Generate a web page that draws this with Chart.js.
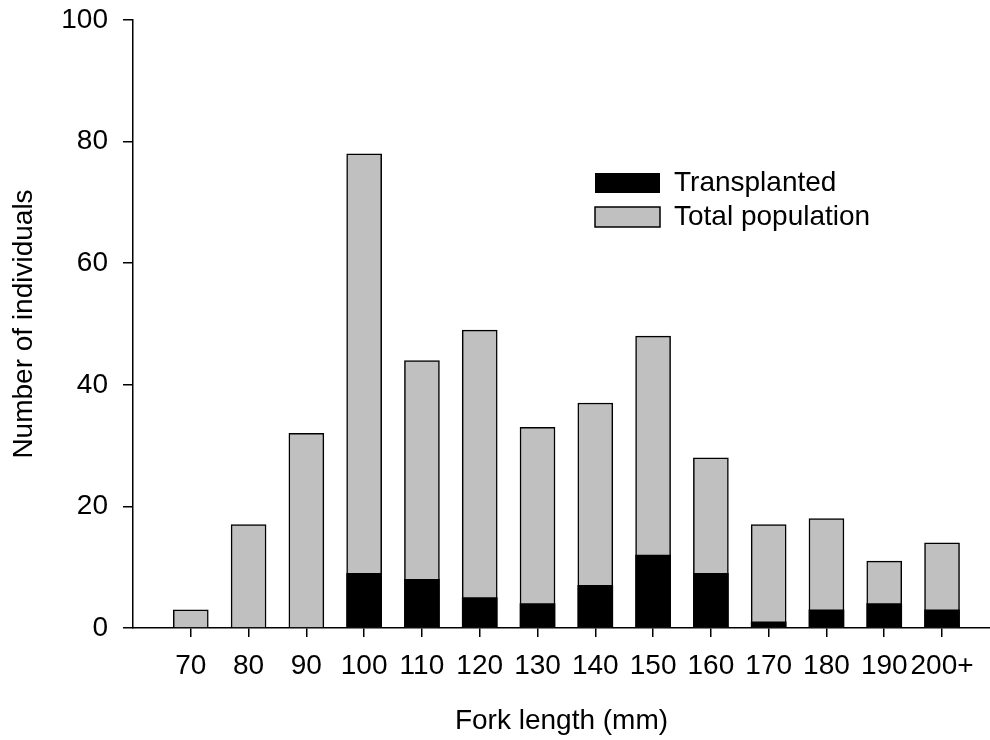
<!DOCTYPE html>
<html>
<head>
<meta charset="utf-8">
<script src="https://cdn.jsdelivr.net/npm/chart.js@4/dist/chart.umd.min.js"></script>
<style>
  html, body { margin: 0; padding: 0; background: #fff; }
  #wrap { width: 990px; height: 740px; position: relative; }
</style>
</head>
<body>
<div id="wrap"><canvas id="fork-length"></canvas></div>
<script>
// fork length classes (mm) and what the axis shows for them
const lengthClasses = [70, 80, 90, 100, 110, 120, 130, 140, 150, 160, 170, 180, 190, 200];
const tickLabels = ["70", "80", "90", "100", "110", "120", "130", "140", "150", "160", "170", "180", "190", "200+"];

// counts per class
const transplanted = [0, 0, 0, 9, 8, 5, 4, 7, 12, 9, 1, 3, 4, 3];
const totalPopulation = [3, 17, 32, 78, 44, 49, 33, 37, 48, 28, 17, 18, 11, 14];

const yTicks = [0, 20, 40, 60, 80, 100];

Chart.defaults.font.family = "'Liberation Sans', Arial, sans-serif";
Chart.defaults.font.size = 28;
Chart.defaults.color = "#000";

// move the legend into the empty upper right part of the plot
const legendSpot = {
  id: "legendSpot",
  afterLayout(chart) {
    const lg = chart.legend;
    lg.left = 589;
    lg.top = 163;
    lg.right = 990;
    lg.bottom = 250;
    lg.width = lg.right - lg.left;
    lg.height = lg.bottom - lg.top;
  },
};

document.addEventListener("DOMContentLoaded", () => {
  const ctx = document.getElementById("fork-length").getContext("2d");

  new Chart(ctx, {
    type: "bar",
    data: {
      labels: lengthClasses,
      datasets: [
        {
          label: "Transplanted",
          data: transplanted,
          backgroundColor: "#000",
          borderColor: "#000",
          borderWidth: 0,
          barThickness: 35,
          grouped: false,
        },
        {
          label: "Total population",
          data: totalPopulation,
          backgroundColor: "#c0c0c0",
          borderColor: "#000",
          borderWidth: 1.5,
          barThickness: 35,
          grouped: false,
        },
      ],
    },
    options: {
      responsive: true,
      maintainAspectRatio: false,
      animation: false,
      layout: {
        padding: { top: 20, right: 0, bottom: 0, left: 0 },
      },
      plugins: {
        legend: {
          position: "chartArea",
          align: "start",
          padding: 0,
          labels: {
            boxWidth: 65,
            boxHeight: 20,
            padding: 6,
            color: "#000",
            font: { size: 28 },
          },
        },
        tooltip: { enabled: false },
      },
      scales: {
        x: {
          type: "linear",
          min: 60,
          max: 208.3,
          offset: false,
          afterBuildTicks: (scale) => {
            scale.ticks = lengthClasses.map((v) => ({ value: v }));
          },
          afterFit: (scale) => {
            scale.height = 112;
          },
          grid: {
            offset: false,
            drawOnChartArea: false,
            drawTicks: true,
            tickLength: 9,
            color: "#000",
            lineWidth: 1.5,
          },
          border: { color: "#000", width: 1.5 },
          ticks: {
            padding: 12,
            maxRotation: 0,
            autoSkip: false,
            color: "#000",
            callback: (value) => {
              const i = lengthClasses.indexOf(value);
              return i >= 0 ? tickLabels[i] : "";
            },
          },
          title: {
            display: true,
            text: "Fork length (mm)",
            color: "#000",
            padding: { top: 0, bottom: 2 },
          },
        },
        y: {
          min: 0,
          max: 100,
          afterBuildTicks: (scale) => {
            scale.ticks = yTicks.map((v) => ({ value: v }));
          },
          afterFit: (scale) => {
            scale.width = 133;
            scale.paddingTop = 0;
            scale.paddingBottom = 0;
          },
          grid: {
            drawOnChartArea: false,
            drawTicks: true,
            tickLength: 10,
            color: "#000",
            lineWidth: 1.5,
          },
          border: { color: "#000", width: 1.5 },
          ticks: {
            padding: 15,
            color: "#000",
          },
          title: {
            display: true,
            text: "Number of individuals",
            color: "#000",
            padding: { top: 7, bottom: 0 },
          },
        },
      },
    },
    plugins: [legendSpot],
  });
});
</script>
</body>
</html>
